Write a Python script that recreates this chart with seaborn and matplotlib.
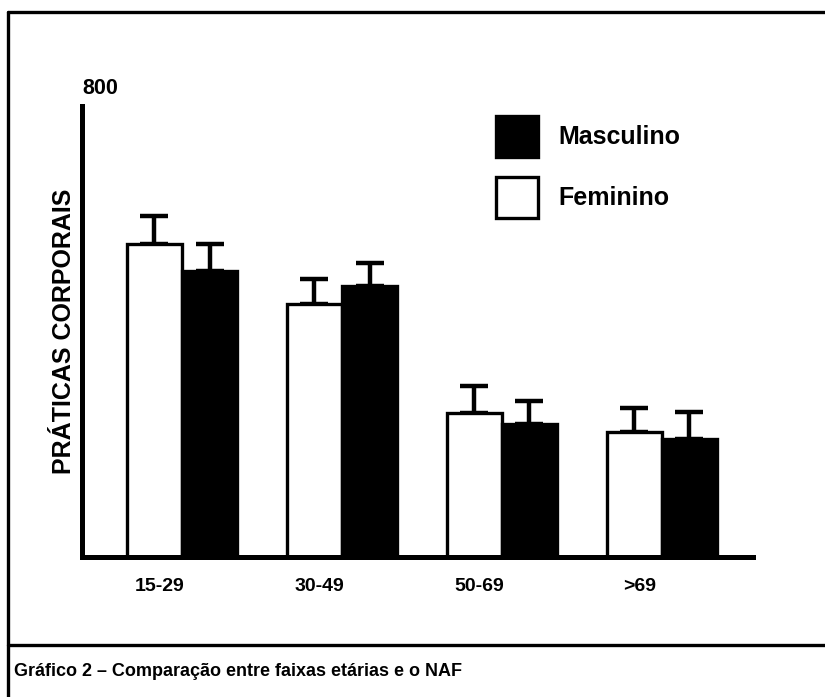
import matplotlib
matplotlib.use("Agg")
import matplotlib.pyplot as plt
from matplotlib.lines import Line2D
import seaborn as sns
import pandas as pd
import numpy as np

# ---- data ----
age_groups = ["15-29", "30-49", "50-69", ">69"]
feminino = [555, 449, 255, 222]
masculino = [507, 481, 236, 210]
err_feminino = [49, 44, 48, 42]
err_masculino = [48, 41, 41, 47]
series_names = ["Feminino", "Masculino"]
y_max = 800

df = pd.DataFrame({
    "faixa": age_groups * 2,
    "sexo": [series_names[0]] * 4 + [series_names[1]] * 4,
    "valor": feminino + masculino,
    "erro": err_feminino + err_masculino,
})

sns.set_theme(style="white")
plt.rcParams["font.family"] = ["Liberation Sans", "DejaVu Sans"]
plt.rcParams["font.weight"] = "bold"
plt.rcParams["text.color"] = "black"
plt.rcParams["axes.labelcolor"] = "black"
plt.rcParams["xtick.color"] = "black"

W, H = 825, 697
fig = plt.figure(figsize=(W / 100, H / 100), dpi=100)
ax = fig.add_axes([82 / W, 1 - 557 / H, (753 - 82) / W, (557 - 106) / H])

sns.barplot(data=df, x="faixa", y="valor", hue="sexo", order=age_groups,
            hue_order=series_names, palette=["white", "black"],
            edgecolor="black", linewidth=2.4, width=0.69, errorbar=None,
            ax=ax, zorder=2)

# error bars (upper side only), placed on the drawn bars
for container, sname in zip(ax.containers, series_names):
    sub = df[df["sexo"] == sname].set_index("faixa").loc[age_groups]
    xs = [p.get_x() + p.get_width() / 2 for p in container.patches]
    ys = [p.get_height() for p in container.patches]
    ax.errorbar(xs, ys, yerr=[np.zeros(len(xs)), sub["erro"].values],
                fmt="none", ecolor="black", elinewidth=3.2, capsize=10,
                capthick=3.2, zorder=1)

ax.set_ylim(0, y_max)
ax.set_xlim(-0.625, 3.57)
ax.set_yticks([])
ax.set_xticks(np.arange(len(age_groups)) - 0.14)
ax.set_xticklabels(age_groups, fontsize=14, fontweight="bold", color="black")
ax.tick_params(axis="x", length=0, pad=15)
ax.set_xlabel("")
ax.set_ylabel("PRÁTICAS CORPORAIS", fontsize=18, fontweight="bold",
              color="black", labelpad=4)
for s in ["top", "right"]:
    ax.spines[s].set_visible(False)
for s in ["left", "bottom"]:
    ax.spines[s].set_color("black")
    ax.spines[s].set_linewidth(3.6)

ax.text(0.0, 1.015, str(y_max), transform=ax.transAxes, fontsize=15.5,
        fontweight="bold", ha="left", va="bottom", color="black")

# legend (Masculino first)
handles, labels = ax.get_legend_handles_labels()
order = [labels.index("Masculino"), labels.index("Feminino")]
leg = ax.legend([handles[i] for i in order], [labels[i] for i in order],
                loc="upper left", bbox_to_anchor=(0.617, 0.978),
                frameon=False, fontsize=18, handlelength=1.68,
                handleheight=2.15, handletextpad=0.8, labelspacing=0.8,
                borderpad=0, borderaxespad=0)
for t in leg.get_texts():
    t.set_fontweight("bold")
    t.set_color("black")

# outer frame and caption separator
lw = 2.4
fig.add_artist(Line2D([8 / W, 8 / W], [0, 1 - 12 / H], transform=fig.transFigure,
                      color="black", lw=lw))
fig.add_artist(Line2D([8 / W, 1], [1 - 12 / H, 1 - 12 / H], transform=fig.transFigure,
                      color="black", lw=lw))
fig.add_artist(Line2D([8 / W, 1], [1 - 645 / H, 1 - 645 / H], transform=fig.transFigure,
                      color="black", lw=lw))

fig.text(14 / W, 1 - 672 / H, "Gráfico 2 – Comparação entre faixas etárias e o NAF",
         fontsize=13, fontweight="bold", ha="left", va="center", color="black",
         family=["Liberation Sans Narrow", "Liberation Sans", "DejaVu Sans"])

fig.savefig("out.png", dpi=100, facecolor="white")
